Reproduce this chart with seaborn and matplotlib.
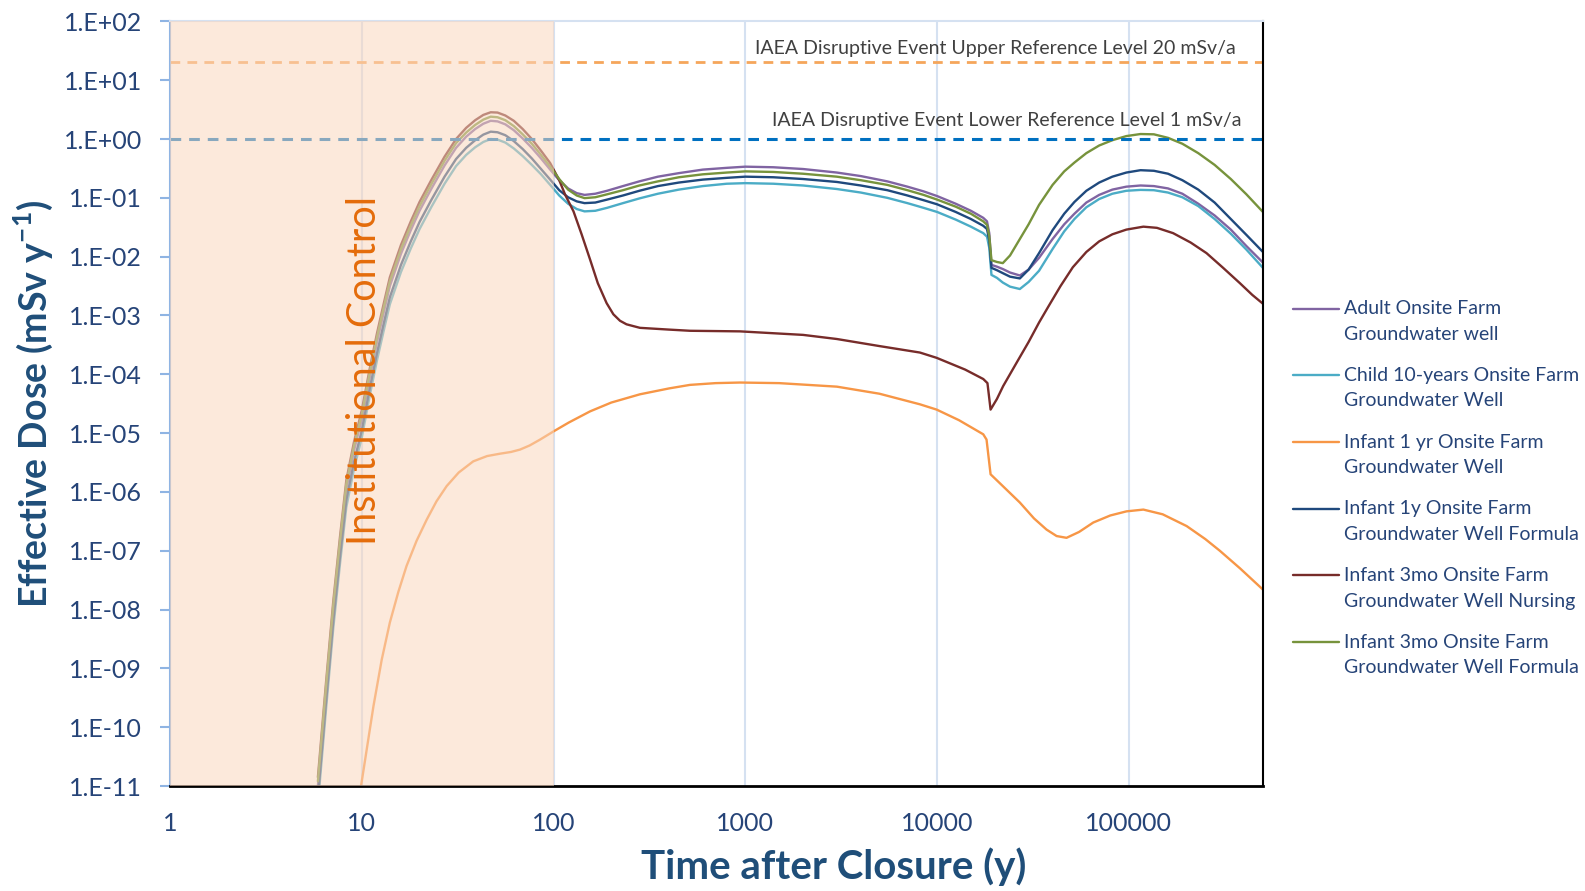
import numpy as np
import pandas as pd
import matplotlib
matplotlib.use("Agg")
import matplotlib.pyplot as plt
from matplotlib.ticker import FixedLocator, FuncFormatter, NullLocator
from matplotlib.legend_handler import HandlerLine2D
import seaborn as sns

# ---------------- data (log10 of effective dose) ----------------
X_BUNDLE = [5.9, 6.5, 7.1, 7.7, 8.3, 9.1, 10, 11, 12, 13, 14, 16, 18, 20, 23, 27, 31, 35, 39, 43,
            47, 51, 56, 62, 69, 77, 86, 96, 107, 119, 132, 145, 165, 190, 230, 280, 350, 450, 600,
            800, 1000, 1400, 2000, 3000, 4000, 5500, 7000, 8500, 10000, 12500, 15000, 17400,
            18200, 18700, 19200, 20500, 22000, 24000, 27000, 30000, 34000, 40000, 46000, 52000,
            60000, 70000, 82000, 97000, 115000, 135000, 160000, 190000, 230000, 280000, 340000,
            410000, 500000]

LOG_ADULT = [-11.0, -9.4, -8.0, -6.9, -5.95, -5.3, -4.76, -4.05, -3.45, -2.95, -2.5, -1.95, -1.55,
             -1.22, -0.85, -0.45, -0.15, 0.04, 0.17, 0.26, 0.31, 0.30, 0.25, 0.15, 0.01, -0.15,
             -0.33, -0.52, -0.70, -0.84, -0.92, -0.95, -0.93, -0.88, -0.80, -0.72, -0.64, -0.58,
             -0.52, -0.49, -0.47, -0.48, -0.51, -0.57, -0.63, -0.72, -0.81, -0.89, -0.97, -1.10,
             -1.22, -1.34, -1.40, -1.60, -2.14, -2.17, -2.21, -2.27, -2.32, -2.22, -2.02, -1.70,
             -1.45, -1.27, -1.08, -0.95, -0.86, -0.81, -0.79, -0.80, -0.84, -0.93, -1.10, -1.30,
             -1.54, -1.82, -2.10]

LOG_CHILD = [-11.31, -9.71, -8.31, -7.21, -6.26, -5.61, -5.07, -4.36, -3.76, -3.26, -2.81, -2.26,
             -1.86, -1.53, -1.16, -0.76, -0.46, -0.27, -0.14, -0.05, 0.0, -0.01, -0.06, -0.16,
             -0.29, -0.44, -0.60, -0.78, -0.96, -1.10, -1.19, -1.23, -1.22, -1.17, -1.09, -1.01,
             -0.93, -0.86, -0.80, -0.76, -0.75, -0.76, -0.79, -0.85, -0.91, -1.00, -1.09, -1.17,
             -1.24, -1.37, -1.49, -1.60, -1.66, -1.85, -2.31, -2.36, -2.44, -2.51, -2.55, -2.43,
             -2.24, -1.87, -1.57, -1.36, -1.16, -1.02, -0.93, -0.88, -0.865, -0.87, -0.91, -0.99,
             -1.14, -1.36, -1.61, -1.88, -2.19]

LOG_INF1Y_FORMULA = [-11.19, -9.59, -8.19, -7.09, -6.14, -5.49, -4.95, -4.24, -3.64, -3.14, -2.69,
                     -2.14, -1.74, -1.41, -1.04, -0.64, -0.34, -0.15, -0.02, 0.075, 0.125, 0.115,
                     0.065, -0.035, -0.17, -0.33, -0.51, -0.69, -0.87, -0.99, -1.06, -1.09, -1.08,
                     -1.03, -0.96, -0.88, -0.80, -0.74, -0.69, -0.66, -0.64, -0.65, -0.68, -0.73,
                     -0.79, -0.87, -0.96, -1.04, -1.11, -1.24, -1.36, -1.475, -1.53, -1.72, -2.19,
                     -2.23, -2.28, -2.34, -2.37, -2.22, -1.94, -1.55, -1.27, -1.07, -0.88, -0.74,
                     -0.64, -0.57, -0.53, -0.54, -0.59, -0.70, -0.86, -1.08, -1.36, -1.63, -1.92]

LOG_INF3MO_FORMULA = [-10.92, -9.32, -7.92, -6.82, -5.87, -5.22, -4.68, -3.97, -3.37, -2.87, -2.42,
                      -1.87, -1.47, -1.14, -0.77, -0.37, -0.07, 0.11, 0.24, 0.33, 0.38, 0.37, 0.32,
                      0.22, 0.08, -0.08, -0.27, -0.47, -0.68, -0.86, -0.96, -1.005, -0.99, -0.94,
                      -0.87, -0.79, -0.72, -0.65, -0.60, -0.57, -0.55, -0.56, -0.59, -0.64, -0.70,
                      -0.78, -0.87, -0.95, -1.03, -1.15, -1.27, -1.40, -1.46, -1.65, -2.06, -2.09,
                      -2.11, -1.98, -1.70, -1.45, -1.12, -0.78, -0.55, -0.40, -0.24, -0.11, -0.02,
                      0.05, 0.085, 0.08, 0.02, -0.08, -0.24, -0.44, -0.68, -0.94, -1.24]

X_NURSING = [5.9, 6.5, 7.1, 7.7, 8.3, 9.1, 10, 11, 12, 13, 14, 16, 18, 20, 23, 27, 31, 35, 39, 43,
             47, 51, 56, 62, 69, 77, 86, 96, 107, 115, 127, 140, 155, 170, 189, 205, 222, 240, 260,
             282, 400, 514, 937, 2000, 3000, 5000, 8130, 9940, 14000, 17400, 18300, 19000, 20500,
             22100, 26000, 30000, 34000, 38000, 44000, 51000, 60000, 70000, 82000, 97000, 119000,
             140000, 170000, 210000, 254000, 310000, 379000, 440000, 500000]
LOG_INF3MO_NURSING = [-10.85, -9.25, -7.85, -6.75, -5.8, -5.15, -4.61, -3.9, -3.3, -2.8, -2.35,
                      -1.8, -1.4, -1.07, -0.7, -0.3, 0.0, 0.19, 0.32, 0.41, 0.455, 0.45, 0.40,
                      0.31, 0.17, 0.0, -0.20, -0.41, -0.70, -0.95, -1.23, -1.62, -2.05, -2.45,
                      -2.79, -2.98, -3.09, -3.15, -3.18, -3.21, -3.24, -3.26, -3.27, -3.33, -3.40,
                      -3.52, -3.63, -3.72, -3.92, -4.08, -4.15, -4.60, -4.42, -4.20, -3.80, -3.45,
                      -3.12, -2.85, -2.50, -2.18, -1.92, -1.74, -1.62, -1.54, -1.49, -1.51, -1.60,
                      -1.76, -1.94, -2.19, -2.45, -2.65, -2.80]

X_INF1YR = [9.85, 11.5, 12.7, 14.0, 15.5, 17.1, 19.3, 21.8, 24.5, 27.7, 32, 38.1, 45, 52.5, 60,
            66.8, 75, 85, 100, 120, 155, 200, 282, 400, 514, 700, 937, 1500, 3000, 5000, 8130,
            9940, 13000, 17400, 18100, 19000, 22000, 27000, 32000, 37200, 42000, 47300, 55000,
            65200, 80000, 97200, 119000, 150000, 200000, 250000, 298000, 380000, 500000]
LOG_INF1YR = [-11.05, -9.64, -8.85, -8.22, -7.7, -7.26, -6.83, -6.47, -6.16, -5.90, -5.67, -5.48,
              -5.39, -5.35, -5.32, -5.28, -5.21, -5.11, -4.97, -4.82, -4.63, -4.48, -4.34, -4.24,
              -4.18, -4.15, -4.14, -4.15, -4.21, -4.33, -4.51, -4.60, -4.78, -5.02, -5.11, -5.70,
              -5.90, -6.18, -6.45, -6.64, -6.75, -6.78, -6.68, -6.52, -6.40, -6.33, -6.30, -6.38,
              -6.58, -6.80, -7.00, -7.30, -7.66]

SERIES_NAMES = ["Adult Onsite Farm\nGroundwater well",
                "Child 10-years Onsite Farm\nGroundwater Well",
                "Infant 1 yr Onsite Farm\nGroundwater Well",
                "Infant 1y Onsite Farm\nGroundwater Well Formula",
                "Infant 3mo Onsite Farm\nGroundwater Well Nursing",
                "Infant 3mo Onsite Farm\nGroundwater Well Formula"]
SERIES_COLORS = ["#8064A2", "#4BACC6", "#F79646", "#1F497D", "#772C2A", "#77933C"]

X_TICKS = [1, 10, 100, 1000, 10000, 100000]
Y_TICKS = [1e-11, 1e-10, 1e-9, 1e-8, 1e-7, 1e-6, 1e-5, 1e-4, 1e-3, 1e-2, 1e-1, 1e0, 1e1, 1e2]
UPPER_REF = 20.0
LOWER_REF = 1.0
INSTITUTIONAL_END = 100

# ---------------- plotting ----------------
sns.set_theme(style="white")
plt.rcParams["font.family"] = ["Lato", "DejaVu Sans"]
plt.rcParams["mathtext.fontset"] = "custom"
plt.rcParams["mathtext.rm"] = "Lato"
plt.rcParams["mathtext.bf"] = "Lato:bold"

TXT = "#264478"
TITLE = "#1F4E79"

fig = plt.figure(figsize=(15.85, 8.91), dpi=100)
ax = fig.add_axes([0.1073, 0.1178, 0.6895, 0.8582])

series = [
    (X_BUNDLE, LOG_ADULT),
    (X_BUNDLE, LOG_CHILD),
    (X_INF1YR, LOG_INF1YR),
    (X_BUNDLE, LOG_INF1Y_FORMULA),
    (X_NURSING, LOG_INF3MO_NURSING),
    (X_BUNDLE, LOG_INF3MO_FORMULA),
]
for (xs, ly), name, col in zip(series, SERIES_NAMES, SERIES_COLORS):
    df = pd.DataFrame({"t": xs, "dose": 10.0 ** np.asarray(ly)})
    sns.lineplot(data=df, x="t", y="dose", ax=ax, color=col, lw=1.7, label=name,
                 sort=False, estimator=None, zorder=2)

ax.set_xscale("log")
ax.set_yscale("log")
ax.set_xlim(1, 5e5)
ax.set_ylim(1e-11, 1e2)

# reference levels
ax.axhline(UPPER_REF, color="#F5A65B", lw=2.0, dashes=(3.5, 2.6), zorder=2.2)
ax.axhline(LOWER_REF, color="#0070C0", lw=2.2, dashes=(3.5, 2.6), zorder=2.2)

# institutional control shading (drawn over lines)
ax.axvspan(1, INSTITUTIONAL_END, color="#FAD7BE", alpha=0.55, lw=0, zorder=2.7)

ax.text(3.6e5, 35, "IAEA Disruptive Event Upper Reference Level 20 mSv/a", ha="right",
        va="center", fontsize=14, color="#404040", zorder=5)
ax.text(3.85e5, 2.1, "IAEA Disruptive Event Lower Reference Level 1 mSv/a", ha="right",
        va="center", fontsize=14, color="#404040", zorder=5)
ax.text(10.3, 1.15e-4, "Institutional Control", rotation=90, ha="center", va="center",
        fontsize=28.5, color="#E46C0A", zorder=5)

# grid, ticks, spines
ax.set_axisbelow(True)
ax.xaxis.set_major_locator(FixedLocator(X_TICKS))
ax.xaxis.set_minor_locator(NullLocator())
ax.yaxis.set_major_locator(FixedLocator(Y_TICKS))
ax.yaxis.set_minor_locator(NullLocator())
ax.xaxis.set_major_formatter(FuncFormatter(lambda v, p: f"{int(round(v))}"))
ax.yaxis.set_major_formatter(FuncFormatter(lambda v, p: f"1.E{int(round(np.log10(v))):+03d}"))
ax.grid(False)
ax.xaxis.grid(True, color="#D5E1F1", lw=1.5)
ax.tick_params(axis="x", length=0, pad=19, labelsize=18, labelcolor=TXT)
ax.tick_params(axis="y", length=7, width=1.5, color="#8FB4E3", pad=13, labelsize=18,
               labelcolor=TXT, left=True)

for s, c, w in [("left", "#8FB4E3", 1.5), ("top", "#D5E1F1", 1.5),
                ("right", "#000000", 1.5), ("bottom", "#000000", 2.0)]:
    ax.spines[s].set_visible(True)
    ax.spines[s].set_color(c)
    ax.spines[s].set_linewidth(w)

ax.set_xlabel("Time after Closure (y)", fontsize=29, fontweight="bold", color=TITLE)
ax.xaxis.set_label_coords(0.6075, -0.106)
ax.xaxis.label.set_va("center")
ax.set_ylabel("Effective Dose (mSv y$^{\\mathbf{-1}}$)", fontsize=27, fontweight="bold",
              color=TITLE)
ax.yaxis.set_label_coords(-0.125, 0.5)
ax.yaxis.label.set_va("center")


class FirstLineHandler(HandlerLine2D):
    """Place the legend line beside the first line of a two-line label."""
    def __init__(self, shift, **kw):
        super().__init__(**kw)
        self.shift = shift

    def create_artists(self, legend, orig_handle, xdescent, ydescent, width, height,
                       fontsize, trans):
        return super().create_artists(legend, orig_handle, xdescent, ydescent - self.shift,
                                      width, height, fontsize, trans)


handles, labels = ax.get_legend_handles_labels()
ax.get_legend().remove()
leg = fig.legend(handles, labels, loc="center left", bbox_to_anchor=(0.805, 0.452),
                 frameon=False, fontsize=14, labelcolor=TXT, handlelength=2.35,
                 handletextpad=0.25, labelspacing=1.25,
                 handler_map={h: FirstLineHandler(19) for h in handles})
for t in leg.get_texts():
    t.set_linespacing(1.6)

fig.savefig("out.png", dpi=100)
